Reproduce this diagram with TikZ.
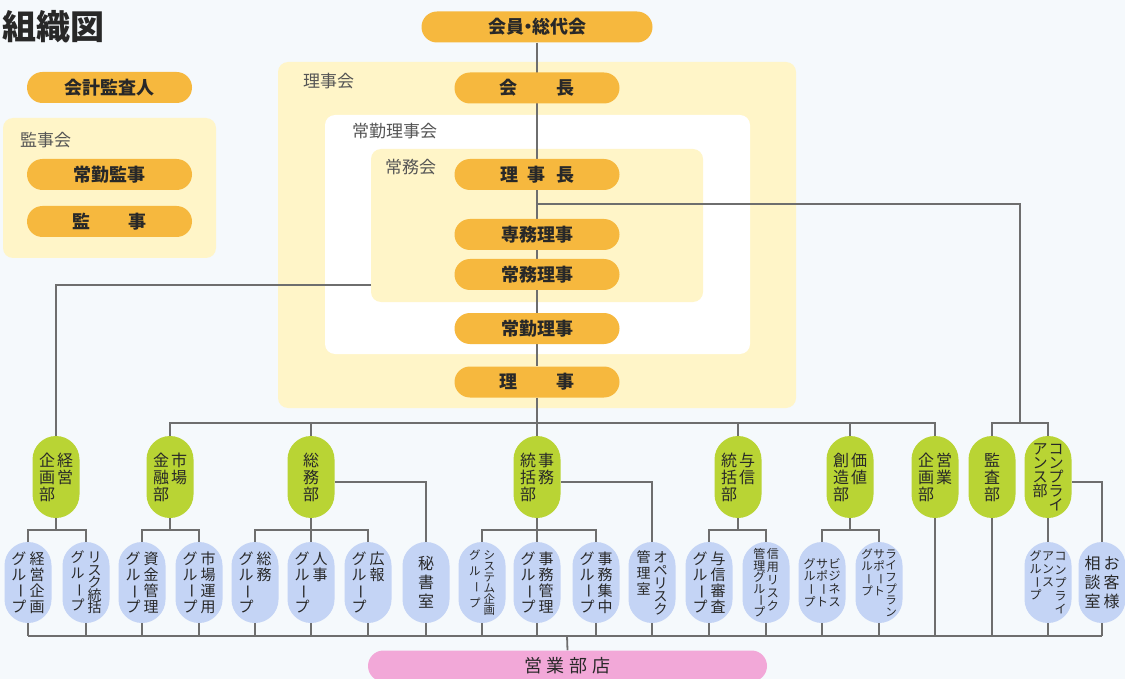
\documentclass[tikz,border=0pt]{standalone}
\usepackage{fontspec}
\setmainfont{Noto Sans CJK JP}
\usetikzlibrary{calc}
\definecolor{bgc}{RGB}{245,249,252}
\definecolor{orangec}{RGB}{246,184,62}
\definecolor{greenc}{RGB}{185,212,52}
\definecolor{bluec}{RGB}{196,212,245}
\definecolor{pinkc}{RGB}{242,168,216}
\definecolor{yelc}{RGB}{255,245,200}
\definecolor{linec}{RGB}{110,110,110}
\definecolor{txtc}{RGB}{40,40,40}
\definecolor{lblc}{RGB}{85,85,85}
\pgfdeclarelayer{panel}\pgfdeclarelayer{lines}
\pgfsetlayers{panel,lines,main}
\newcommand{\vcol}[2][]{\vtop{#1\lineskiplimit=-\maxdimen\lineskip=0pt\halign{\hfil##\hfil\cr#2\crcr}}}
\newcommand{\chon}{\raisebox{0.1em}{\rotatebox[origin=c]{-90}{ー}}}
\tikzset{
 pill/.style={fill=orangec, rounded corners=15.5pt, minimum width=165pt, minimum height=31pt, inner sep=0pt, text=txtc, font=\fontsize{18}{20}\selectfont\bfseries},
 gnode/.style={fill=greenc, rounded corners=23.5pt, minimum width=47pt, minimum height=82pt, inner sep=0pt, text=txtc, font=\fontsize{16}{17}\selectfont},
 bnode/.style={fill=bluec, rounded corners=23.5pt, minimum width=47pt, minimum height=81pt, inner sep=0pt, text=txtc, font=\fontsize{15}{16}\selectfont},
 panelbox/.style={rounded corners=10pt, inner sep=0pt},
 lbl/.style={anchor=west, inner sep=0pt, text=lblc, font=\fontsize{17}{18}\selectfont},
 conn/.style={draw=linec, line width=1.8pt},
}
\begin{document}
\begin{tikzpicture}[x=1pt,y=-1pt]
\useasboundingbox (0,0) rectangle (1125,679);
\clip (0,0) rectangle (1125,679);
\begin{pgfonlayer}{panel}
\fill[bgc] (0,0) rectangle (1125,679);
\node[panelbox, fill=yelc, minimum width=518pt, minimum height=346pt] (rijikai) at (537,235) {};
\node[panelbox, fill=white, minimum width=425pt, minimum height=239pt] (jokinkai) at (537.5,234.5) {};
\node[panelbox, fill=yelc, minimum width=332pt, minimum height=153pt] (jomukai) at (537,225.5) {};
\node[panelbox, fill=yelc, minimum width=213pt, minimum height=140pt] (kanjikai) at (109.5,188) {};
\end{pgfonlayer}

% title and panel labels
\node[anchor=west, inner sep=0pt, text=txtc, font=\fontsize{34}{36}\selectfont\bfseries] (title) at (2,27) {組織図};
\node[lbl] (l1) at (303,81) {理事会};
\node[lbl] (l2) at (352,131) {常勤理事会};
\node[lbl] (l3) at (385,167) {常務会};
\node[lbl] (l4) at (20,140) {監事会};

% orange pills
\node[pill, minimum width=231pt] (kaiin) at (537,27) {会員\kern-5pt・\kern-5pt総代会};
\node[pill] (kaicho) at (537,88) {会\hspace{39pt}長};
\node[pill] (rijicho) at (537,174.5) {理\hspace{10pt}事\hspace{10pt}長};
\node[pill] (senmu) at (537,234.5) {専務理事};
\node[pill] (jomu) at (537,274.5) {常務理事};
\node[pill] (jokin) at (537,328.5) {常勤理事};
\node[pill] (riji) at (537,382) {理\hspace{39pt}事};
\node[pill] (kaikei) at (109.5,87.5) {会計監査人};
\node[pill] (jokinkanji) at (109.5,174.5) {常勤監事};
\node[pill] (kanji) at (109.5,221.5) {監\hspace{39pt}事};

% green department nodes
\node[gnode] (keiei) at (56,477) {\vcol{企\cr 画\cr 部}\hspace{2pt}\vcol{経\cr 営}};
\node[gnode] (shijo) at (170,477) {\vcol{金\cr 融\cr 部}\hspace{2pt}\vcol{市\cr 場}};
\node[gnode] (somu) at (311,477) {\vcol{総\cr 務\cr 部}};
\node[gnode] (jimu) at (537,477) {\vcol{統\cr 括\cr 部}\hspace{2pt}\vcol{事\cr 務}};
\node[gnode] (yoshin) at (738,477) {\vcol{統\cr 括\cr 部}\hspace{2pt}\vcol{与\cr 信}};
\node[gnode] (kachi) at (850,477) {\vcol{創\cr 造\cr 部}\hspace{2pt}\vcol{価\cr 値}};
\node[gnode] (eigyoK) at (935,477) {\vcol{企\cr 画\cr 部}\hspace{2pt}\vcol{営\cr 業}};
\node[gnode] (kansa) at (992,477) {\vcol{監\cr 査\cr 部}};
\node[gnode, font=\fontsize{15}{14}\selectfont] (comp) at (1048,477) {\vcol{ア\cr ン\cr ス\cr 部}\hspace{1pt}\vcol{コ\cr ン\cr プ\cr ラ\cr イ}};

% blue group nodes
\node[bnode] (keieiG) at (28,582.5) {\vcol{グ\cr ル\cr \chon\cr プ}\hspace{3pt}\vcol{経\cr 営\cr 企\cr 画}};
\node[bnode, font=\fontsize{14}{16}\selectfont] (riskG) at (86,582.5) {\vcol{グ\cr ル\cr \chon\cr プ}\hspace{3pt}\vcol[\baselineskip=12.5pt]{リ\cr ス\cr ク\cr 統\cr 括}};
\node[bnode] (shikinG) at (142,582.5) {\vcol{グ\cr ル\cr \chon\cr プ}\hspace{3pt}\vcol{資\cr 金\cr 管\cr 理}};
\node[bnode] (unyoG) at (199,582.5) {\vcol{グ\cr ル\cr \chon\cr プ}\hspace{3pt}\vcol{市\cr 場\cr 運\cr 用}};
\node[bnode] (somuG) at (255,582.5) {\vcol{グ\cr ル\cr \chon\cr プ}\hspace{3pt}\vcol{総\cr 務}};
\node[bnode] (jinjiG) at (311,582.5) {\vcol{グ\cr ル\cr \chon\cr プ}\hspace{3pt}\vcol{人\cr 事}};
\node[bnode] (kohoG) at (368,582.5) {\vcol{グ\cr ル\cr \chon\cr プ}\hspace{3pt}\vcol{広\cr 報}};
\node[bnode, font=\fontsize{16}{19}\selectfont] (hisho) at (426,582.5) {\vcol{秘\cr 書\cr 室}};
\node[bnode, font=\fontsize{11.5}{16}\selectfont] (sysG) at (482,582.5) {\vcol{グ\cr ル\cr \chon\cr プ}\hspace{3pt}\vcol[\baselineskip=11pt]{シ\cr ス\cr テ\cr ム\cr 企\cr 画}};
\node[bnode] (jimuKG) at (537,582.5) {\vcol{グ\cr ル\cr \chon\cr プ}\hspace{3pt}\vcol{事\cr 務\cr 管\cr 理}};
\node[bnode] (jimuSG) at (596,582.5) {\vcol{グ\cr ル\cr \chon\cr プ}\hspace{3pt}\vcol{事\cr 務\cr 集\cr 中}};
\node[bnode, font=\fontsize{14}{16}\selectfont] (opeR) at (652,582.5) {\vcol{管\cr 理\cr 室}\hspace{3pt}\vcol[\baselineskip=13pt]{オ\cr ペ\cr リ\cr ス\cr ク}};
\node[bnode] (yoshinG) at (709,582.5) {\vcol{グ\cr ル\cr \chon\cr プ}\hspace{3pt}\vcol{与\cr 信\cr 審\cr 査}};
\node[bnode, font=\fontsize{12}{11.5}\selectfont] (shinyoG) at (766,582.5) {\vcol{管\cr 理\cr グ\cr ル\cr \chon\cr プ}\hspace{1.5pt}\vcol[\baselineskip=13pt]{信\cr 用\cr リ\cr ス\cr ク}};
\node[bnode, font=\fontsize{12}{12.7}\selectfont] (bizG) at (822,582.5) {\vcol{グ\cr ル\cr \chon\cr プ}\hspace{0.5pt}\vcol{サ\cr ポ\cr \chon\cr ト}\hspace{0.5pt}\vcol{ビ\cr ジ\cr ネ\cr ス}};
\node[bnode, font=\fontsize{11.5}{12.5}\selectfont] (lifeG) at (879,582.5) {\vcol{グ\cr ル\cr \chon\cr プ}\hspace{0.5pt}\vcol{サ\cr ポ\cr \chon\cr ト}\hspace{0.5pt}\vcol[\baselineskip=11.6pt]{ラ\cr イ\cr フ\cr プ\cr ラ\cr ン}};
\node[bnode, font=\fontsize{12}{12.8}\selectfont] (compG) at (1048,582.5) {\vcol{グ\cr ル\cr \chon\cr プ}\hspace{0.5pt}\vcol{ア\cr ン\cr ス}\hspace{0.5pt}\vcol[\baselineskip=13.3pt]{コ\cr ン\cr プ\cr ラ\cr イ}};
\node[bnode, font=\fontsize{16}{19}\selectfont] (okyaku) at (1102,582.5) {\vcol{相\cr 談\cr 室}\hspace{3pt}\vcol{お\cr 客\cr 様}};

% pink branch node
\node[fill=pinkc, rounded corners=15.5pt, minimum width=399pt, minimum height=31pt, inner sep=0pt, text=txtc, font=\fontsize{18}{20}\selectfont] (eigyoten) at (567.5,666) {営\hspace{5pt}業\hspace{5pt}部\hspace{5pt}店};

% connectors
\begin{pgfonlayer}{lines}
\coordinate (bus) at (537,423);
\coordinate (rb) at (537,204);
\coordinate (rbus) at (1020,423);
\coordinate (lb) at (371,285);
\coordinate (bb) at (567,636);
\draw[conn] (kaiin.south) -- (riji.north);
\draw[conn] (riji.south) -- (jimu.north);
\draw[conn] (shijo.north) |- (bus) -| (eigyoK.north);
\foreach \n in {somu,yoshin,kachi} \draw[conn] (\n.north) -- (\n.north |- bus);
\draw[conn] (rb) -| (rbus);
\draw[conn] (kansa.north) |- (rbus) -| (comp.north);
\draw[conn] (lb) -| (keiei.north);
% group brackets
\draw[conn] (keiei.south) -- ++(0,12) coordinate (k1);
\draw[conn] (keieiG.north) |- (k1) -| (riskG.north);
\draw[conn] (shijo.south) -- ++(0,12) coordinate (k2);
\draw[conn] (shikinG.north) |- (k2) -| (unyoG.north);
\draw[conn] (somu.south) -- ++(0,12) coordinate (k3);
\draw[conn] (somuG.north) |- (k3) -| (kohoG.north);
\draw[conn] (jinjiG.north) -- (jinjiG.north |- k3);
\draw[conn] (jimu.south) -- ++(0,12) coordinate (k4);
\draw[conn] (sysG.north) |- (k4) -| (jimuSG.north);
\draw[conn] (jimuKG.north) -- (jimuKG.north |- k4);
\draw[conn] (yoshin.south) -- ++(0,12) coordinate (k5);
\draw[conn] (yoshinG.north) |- (k5) -| (shinyoG.north);
\draw[conn] (kachi.south) -- ++(0,12) coordinate (k6);
\draw[conn] (bizG.north) |- (k6) -| (lifeG.north);
\draw[conn] (comp.south) -- (compG.north);
\draw[conn] ([yshift=-5pt]somu.east) -| (hisho.north);
\draw[conn] ([yshift=-5pt]jimu.east) -| (opeR.north);
\draw[conn] ([yshift=-5pt]comp.east) -| (okyaku.north);
% bottom bus
\foreach \n in {keieiG,riskG,shikinG,unyoG,somuG,jinjiG,kohoG,hisho,sysG,jimuKG,jimuSG,opeR,yoshinG,shinyoG,bizG,lifeG,compG,okyaku,eigyoK,kansa}
  \draw[conn] (\n.south) -- (\n.south |- bb);
\draw[conn] (keieiG.south |- bb) -- (okyaku.south |- bb);
\draw[conn] (bb) -- (eigyoten.north);
\end{pgfonlayer}
\end{tikzpicture}
\end{document}
